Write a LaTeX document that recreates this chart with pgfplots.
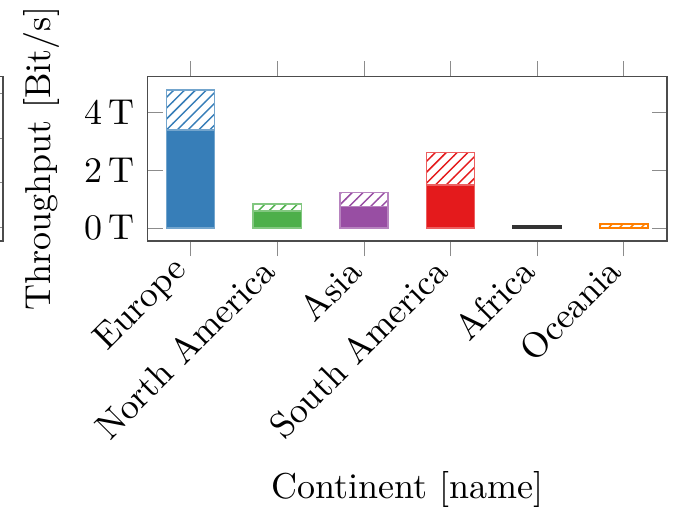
\documentclass[border=0pt]{standalone}
\usepackage{pgfplots}
\pgfplotsset{compat=1.18}
\usetikzlibrary{patterns}
\definecolor{cEU}{HTML}{377EB8}
\definecolor{cNA}{HTML}{4DAF4A}
\definecolor{cAS}{HTML}{984EA3}
\definecolor{cSA}{HTML}{E41A1C}
\definecolor{cAF}{HTML}{333333}
\definecolor{cOC}{HTML}{FF7F00}
\begin{document}
\begin{tikzpicture}
\begin{axis}[name=main,
  scale only axis, width=144.4pt, height=45.6pt,
  at={(0,0)}, anchor=south west,
  ybar, bar shift=0pt, bar width=0.555,
  xmin=-0.5, xmax=5.5, ymin=-0.44, ymax=5.24,
  xtick={0,1,2,3,4,5},
  xticklabels={Europe, North America, Asia, South America, Africa, Oceania},
  xticklabel style={rotate=45, anchor=east},
  xtick align=outside,
  ytick={0,2,4}, yticklabels={0\,T, 2\,T, 4\,T},
  axis line style={black!70},
  tick style={black!45},
  xlabel={Continent [name]},
  ylabel={Throughput [Bit/s]},
]
% hatched part: full height (total), solid part drawn over it
\addplot[draw=cEU!70, pattern=north east lines, pattern color=cEU] coordinates {(0,4.78)};
\addplot[draw=cEU!70, fill=cEU] coordinates {(0,3.40)};
\addplot[draw=cNA!70, pattern=north east lines, pattern color=cNA] coordinates {(1,0.84)};
\addplot[draw=cNA!70, fill=cNA] coordinates {(1,0.60)};
\addplot[draw=cAS!70, pattern=north east lines, pattern color=cAS] coordinates {(2,1.23)};
\addplot[draw=cAS!70, fill=cAS] coordinates {(2,0.75)};
\addplot[draw=cSA!70, pattern=north east lines, pattern color=cSA] coordinates {(3,2.61)};
\addplot[draw=cSA!70, fill=cSA] coordinates {(3,1.49)};
\addplot[draw=cAF, pattern=north east lines, pattern color=cAF] coordinates {(4,0.10)};
\addplot[draw=cAF, fill=cAF] coordinates {(4,0.09)};
\addplot[draw=cOC, pattern=north east lines, pattern color=cOC] coordinates {(5,0.15)};
\addplot[draw=cOC, fill=cOC] coordinates {(5,0.01)};
\end{axis}
% right edge of the neighbouring plot, mostly outside the picture
\begin{axis}[
  scale only axis, width=100pt, height=45.6pt,
  at={(-40.1pt,0)}, anchor=south east,
  xmin=0, xmax=1, xtick=\empty,
  ymin=-0.31, ymax=3.375, ytick={0,1,2,3}, yticklabels={},
  axis line style={black!70},
  tick style={black!45},
]
\addplot[draw=none] coordinates {(0,0)};
\end{axis}
\pgfresetboundingbox
\path[use as bounding box] (-40.9pt,-75.4pt) rectangle (146.3pt,66.9pt);
\end{tikzpicture}
\end{document}
